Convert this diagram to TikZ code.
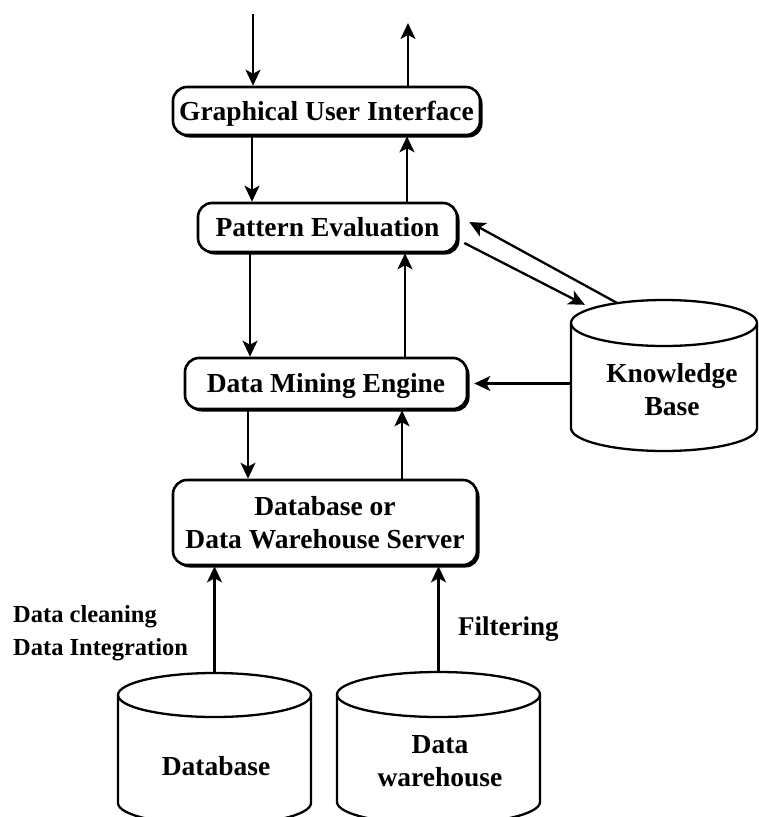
\documentclass[tikz,border=0pt]{standalone}
\usepackage{fontspec}
\setmainfont{Liberation Serif}
\usetikzlibrary{arrows.meta,shadows,calc}
\newcommand\cylpath[5]{% cx, ytop, rx, ry, yside
  \draw[cyl] (#1,#2+#4) ellipse [x radius=#3, y radius=#4];
  \draw[cyl] (#1-#3,#2+#4) -- (#1-#3,#5) arc [start angle=180, end angle=0, x radius=#3, y radius=#4] -- (#1+#3,#2+#4);
}
\begin{document}
\begin{tikzpicture}[x=1pt,y=-1pt,
  box/.style={draw, line width=2.6pt, rounded corners=14pt, fill=white, inner sep=0pt,
    font=\bfseries\fontsize{27.5}{33}\selectfont,
    drop shadow={shadow xshift=2.5pt, shadow yshift=-2.5pt, fill=black, opacity=1}},
  one/.style={text height=18pt, text depth=0pt},
  arr/.style={line width=2.3pt, -{Stealth[length=16pt,width=15pt,inset=4pt]}},
  cyl/.style={line width=2.3pt},
  txt/.style={font=\bfseries\fontsize{27.5}{33}\selectfont, inner sep=0pt, align=center},
  lab/.style={font=\bfseries\fontsize{24.5}{33}\selectfont, inner sep=0pt, align=left},
  hold/.style={inner sep=0pt, draw=none},
]
\useasboundingbox (0,0) rectangle (759,817);

% boxes
\node[box, one, minimum width=307pt, minimum height=48pt] (gui) at (326.5,111) {Graphical User Interface};
\node[box, one, minimum width=259pt, minimum height=49pt] (pe) at (327.5,227.5) {Pattern Evaluation};
\node[box, one, minimum width=282pt, minimum height=51pt] (dme) at (326,383.5) {Data Mining Engine};
\node[box, align=center, minimum width=304pt, minimum height=85pt] (srv) at (325,522.5) {Database or\\Data Warehouse Server};

% cylinders
\node[hold, minimum width=186pt, minimum height=151pt] (kb) at (664,375.5) {};
\cylpath{664}{300}{93}{23}{428}
\node[txt] (kbt) at (672,390) {Knowledge\\Base};

\node[hold, minimum width=193pt, minimum height=152pt] (db) at (214.5,749) {};
\cylpath{214.5}{673}{96.5}{22}{803}
\node[txt, text height=18pt, text depth=0pt] (dbt) at (216,766) {Database};

\node[hold, minimum width=203pt, minimum height=152pt] (dw) at (438.5,748) {};
\cylpath{438.5}{672}{101.5}{22.5}{802}
\node[txt] (dwt) at (440,761) {Data\\warehouse};

% labels
\node[lab, anchor=north west] (lclean) at (13,605) {Data cleaning\\Data Integration};
\node[font=\bfseries\fontsize{27}{33}\selectfont, inner sep=0pt, anchor=base west] (lfilt) at (458,635) {Filtering};

% connectors
\coordinate (inTop) at (253,14);
\coordinate (outTop) at (408,23);
\draw[arr] (inTop) -- (gui.north -| inTop);
\draw[arr] (gui.north -| outTop) -- (outTop);
\draw[arr] (gui.south -| 252,0) -- (pe.north -| 252,0);
\draw[arr] (pe.north -| 407,0) -- (gui.south -| 407,0);
\draw[arr] (pe.south -| 250,0) -- (dme.north -| 250,0);
\draw[arr] (dme.north -| 405,0) -- (pe.south -| 405,0);
\draw[arr] (dme.south -| 248,0) -- (srv.north -| 248,0);
\draw[arr] (srv.north -| 402,0) -- (dme.south -| 402,0);
\draw[arr] (db.north) -- (srv.south -| db.north);
\draw[arr] (dw.north) -- (srv.south -| dw.north);
\draw[arr] ($(pe.east)+(6,15.5)$) -- ($(kb.north west)+(14,5)$);
\draw[arr] ($(kb.north west)+(46,3)$) -- ($(pe.east)+(11,-5.5)$);
\draw[arr] (kb.west |- dme.east) -- ([xshift=6pt]dme.east);
\end{tikzpicture}
\end{document}
